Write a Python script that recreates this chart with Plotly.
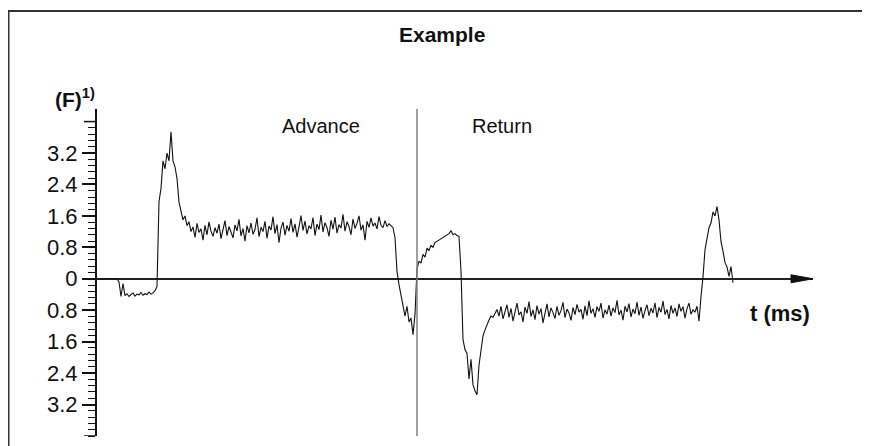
import plotly.graph_objects as go
import numpy as np

# force trace, sampled at equal steps, split into the phases of the stroke
f_start = [0, 0, 0, 0, 0, 0, 0, 0, 0, 0, 0,
           -0.08, -0.45, -0.12,
           -0.43, -0.38, -0.45, -0.40, -0.36, -0.44, -0.39, -0.41,
           -0.35, -0.42, -0.38, -0.40, -0.34, -0.39, -0.36,
           -0.30, -0.20]

f_rise = [1.96, 2.30, 3.00, 2.80, 3.20, 3.00, 3.74, 3.00, 2.85, 2.55,
          1.95, 1.75, 1.50, 1.60, 1.35, 1.45, 1.20]

f_advance = [1.32, 1.05, 1.41, 1.18, 1.27, 0.98, 1.36, 1.12, 1.45, 1.21,
             1.08, 1.30, 1.16, 1.39, 1.02, 1.25, 1.48, 1.10, 1.33, 1.19,
             1.04, 1.37, 1.22, 1.51, 1.09, 1.28, 0.96, 1.35, 1.17, 1.42,
             1.13, 1.26, 1.55, 1.07, 1.31, 1.20, 1.46, 1.03, 1.34, 1.24,
             1.58, 1.15, 1.38, 0.92, 1.29, 1.44, 1.11, 1.36, 1.21, 1.53,
             1.18, 1.40, 1.06, 1.32, 1.61, 1.23, 1.47, 1.14, 1.35, 1.27,
             1.56, 1.10, 1.39, 1.25, 1.62, 1.19, 1.43, 1.30, 1.08, 1.49,
             1.26, 1.57, 1.16, 1.38, 1.29, 1.64, 1.21, 1.45, 1.33, 1.12,
             1.52, 1.28, 1.41, 1.60, 1.24, 1.37, 0.98, 1.46, 1.31, 1.55,
             1.34, 1.42, 1.27, 1.58, 1.36, 1.30, 1.48, 1.33, 1.40, 1.35]

f_reversal = [1.30, 1.05, 0.19, -0.15, -0.45, -0.75, -0.95, -0.70, -1.10, -1.00,
              -1.42, -0.90, 0.25, 0.45, 0.40, 0.62, 0.55, 0.78, 0.72, 0.85,
              0.80, 0.92, 0.95, 0.98, 1.02, 1.05, 1.08, 1.12, 1.15, 1.22,
              1.12, 1.15, 1.10, 1.08, 0.20, -1.55, -1.80, -1.90, -2.55, -2.05,
              -2.70, -2.85, -2.95, -2.20, -1.75, -1.45, -1.30, -1.15, -1.05, -0.95,
              -0.98, -0.88]

f_return = [-0.78, -0.95, -0.70, -1.02, -0.82, -0.66, -0.98, -0.75, -1.08, -0.80,
            -0.62, -0.92, -0.84, -1.10, -0.72, -0.88, -0.58, -0.96, -0.79, -1.04,
            -0.68, -0.90, -0.76, -1.12, -0.83, -0.64, -0.97, -0.74, -0.86, -1.01,
            -0.70, -0.93, -0.81, -0.60, -0.99, -0.77, -0.87, -1.06, -0.73, -0.91,
            -0.65, -0.85, -0.78, -1.03, -0.69, -0.94, -0.56, -0.88, -0.76, -0.98,
            -0.71, -0.83, -0.62, -1.00, -0.79, -0.90, -0.67, -0.95, -0.74, -0.86,
            -0.55, -0.92, -0.80, -1.05, -0.70, -0.84, -0.63, -0.97, -0.77, -0.89,
            -0.59, -0.93, -0.72, -1.01, -0.81, -0.66, -0.94, -0.75, -0.87, -0.61,
            -0.99, -0.73, -0.85, -0.57, -0.91, -0.78, -1.02, -0.68, -0.88, -0.74,
            -0.96, -0.64, -0.83, -0.71, -1.00, -0.76, -0.62, -0.90, -0.79, -0.85,
            -0.70, -1.08]

f_end = [-0.45, 0.05, 0.74, 0.99, 1.30, 1.42, 1.70, 1.60, 1.84, 1.50,
         0.95, 0.70, 0.41, 0.30, 0.06, 0.31, -0.10]

force = f_start + f_rise + f_advance + f_reversal + f_return + f_end
t = np.arange(len(force))

t_reverse = 160      # sample where advance turns into return
t_max = 358          # end of the time axis (arrow tip)

major_vals = [-3.2, -2.4, -1.6, -0.8, 0, 0.8, 1.6, 2.4, 3.2]
major_text = ['3.2', '2.4', '1.6', '0.8', '0', '0.8', '1.6', '2.4', '3.2']
end_ticks = [-4.0, 4.0]
minor_vals = list(np.round(np.arange(-25, 26) * 0.16, 2))

FONT = "Liberation Sans, Arial, Helvetica, sans-serif"
# the page body adds 8px around the figure
OFF = 8
W, H = 862, 438
L, R, T, B = 89, 57, 101, 10


def px(x):
    # page pixel -> paper fraction
    return (x - OFF - L) / (W - L - R)


def py(y):
    return (H - B - (y - OFF)) / (H - T - B)


fig = go.Figure()
fig.add_trace(go.Scatter(x=t, y=force, mode='lines',
                         line=dict(color='#111', width=1.1),
                         hoverinfo='skip', showlegend=False))

fig.update_xaxes(visible=False, range=[0, t_max])
fig.update_yaxes(range=[-4.0, 4.32], showgrid=False,
                 showline=True, linecolor='#111', linewidth=2,
                 zeroline=True, zerolinecolor='#222', zerolinewidth=1.5,
                 tickmode='array', tickvals=major_vals, ticktext=major_text,
                 ticks='outside', ticklen=13, tickwidth=1.5, tickcolor='#111',
                 tickfont=dict(family=FONT, size=22, color='#111'),
                 minor=dict(tickmode='array', tickvals=minor_vals,
                            ticks='outside', ticklen=7, tickwidth=1.2,
                            tickcolor='#111'))

# unlabelled long ticks at both ends of the force axis
for v in end_ticks:
    fig.add_shape(type='line', xref='paper', yref='y', x0=px(84), x1=px(97),
                  y0=v, y1=v, line=dict(color='#111', width=1.5))
# arrow head on the time axis
fig.add_shape(type='path', xref='x', yref='y', xsizemode='pixel',
              ysizemode='pixel', xanchor=t_max, yanchor=0,
              path='M 0 0 L -22 4 L -22 -4 Z',
              fillcolor='#111', line=dict(color='#111', width=1))
# separation between advance and return
fig.add_shape(type='line', xref='x', yref='paper', x0=t_reverse, x1=t_reverse,
              y0=0, y1=1, line=dict(color='#808080', width=1.5))
# frame
fig.add_shape(type='rect', xref='paper', yref='paper',
              x0=px(8.5), x1=px(866), y0=py(452), y1=py(11),
              line=dict(color='#333', width=2))


def label(text, x, y, size, bold=False):
    if bold:
        text = '<b>' + text + '</b>'
    fig.add_annotation(text=text, xref='paper', yref='paper', x=px(x), y=py(y),
                       xanchor='center', yanchor='middle', showarrow=False,
                       font=dict(family=FONT, size=size, color='#111'))


label('Example', 442, 35, 21, bold=True)
label('Advance', 321, 126, 20)
label('Return', 502, 126, 20)
label('t (ms)', 780, 313, 22, bold=True)
label('(F)<sup>1)</sup>', 75, 98, 21, bold=True)

fig.update_layout(width=W, height=H, autosize=False,
                  margin=dict(l=L, r=R, t=T, b=B),
                  plot_bgcolor='white', paper_bgcolor='white')

fig.write_html("out.html")
